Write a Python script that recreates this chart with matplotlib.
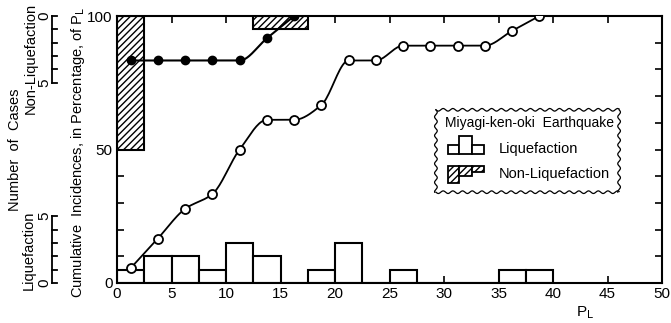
import numpy as np
import matplotlib
matplotlib.use("Agg")
import matplotlib.pyplot as plt
from matplotlib import transforms
from matplotlib.patches import Rectangle

plt.rcParams["font.family"] = ["Liberation Sans", "DejaVu Sans"]
plt.rcParams["hatch.linewidth"] = 1.0

# histogram bins of P_L (width 2.5)
bin_left = [0, 2.5, 5, 7.5, 10, 12.5, 15, 17.5, 20, 22.5, 25, 27.5, 30, 32.5, 35, 37.5]
liq_counts = [1, 2, 2, 1, 3, 2, 0, 1, 3, 0, 1, 0, 0, 0, 1, 1]
nonliq_counts = [10, 0, 0, 0, 0, 1, 1, 0, 0, 0, 0, 0, 0, 0, 0, 0]
bin_width = 2.5
pct_per_case = 5  # one case = 5 % on the cumulative axis

x_ticks = [0, 5, 10, 15, 20, 25, 30, 35, 40, 45, 50]
y_labels = [0, 50, 100]


def pchip(x, y, xn):
    x = np.asarray(x, float)
    y = np.asarray(y, float)
    h = np.diff(x)
    d = np.diff(y) / h
    m = np.zeros_like(y)
    for k in range(1, len(x) - 1):
        if d[k - 1] * d[k] > 0:
            w1 = 2 * h[k] + h[k - 1]
            w2 = h[k] + 2 * h[k - 1]
            m[k] = (w1 + w2) / (w1 / d[k - 1] + w2 / d[k])
    m[0] = d[0]
    m[-1] = d[-1]
    out = np.empty_like(xn)
    for i, xv in enumerate(xn):
        k = min(max(np.searchsorted(x, xv) - 1, 0), len(x) - 2)
        t = (xv - x[k]) / h[k]
        h00 = 2 * t**3 - 3 * t**2 + 1
        h10 = t**3 - 2 * t**2 + t
        h01 = -2 * t**3 + 3 * t**2
        h11 = t**3 - t**2
        out[i] = h00 * y[k] + h10 * h[k] * m[k] + h01 * y[k + 1] + h11 * h[k] * m[k + 1]
    return out


mid = np.array(bin_left) + bin_width / 2
liq = np.array(liq_counts)
non = np.array(nonliq_counts)
cum_liq = np.cumsum(liq) / liq.sum() * 100
cum_non = np.cumsum(non) / non.sum() * 100
last_liq = np.argmax(cum_liq >= 100) + 1
last_non = np.argmax(cum_non >= 100) + 1

W, H = 671, 323
fig = plt.figure(figsize=(W / 100, H / 100), dpi=100)
ax = fig.add_axes([117 / W, 1 - 283 / H, (662 - 117) / W, (283 - 16) / H])
ax.set_xlim(0, 50)
ax.set_ylim(0, 100)

# liquefaction histogram from bottom
ax.bar(bin_left, liq * pct_per_case, width=bin_width, align="edge",
       facecolor="white", edgecolor="black", linewidth=1.5, zorder=2)
# non-liquefaction histogram hanging from top
for xl, c in zip(bin_left, nonliq_counts):
    if c > 0:
        ax.bar(xl, -c * pct_per_case, bottom=100, width=bin_width, align="edge",
               facecolor="white", edgecolor="black", hatch="/////", linewidth=0,
               zorder=2)
# outline of hatched groups
ax.bar(0, -non[0] * pct_per_case, bottom=100, width=bin_width, align="edge",
       fill=False, edgecolor="black", linewidth=1.5, zorder=3)
ax.bar(12.5, -pct_per_case, bottom=100, width=2 * bin_width, align="edge",
       fill=False, edgecolor="black", linewidth=1.5, zorder=3)

# cumulative curves
xs = mid[:last_liq]
xx = np.linspace(xs[0], xs[-1], 300)
ax.plot(xx, pchip(xs, cum_liq[:last_liq], xx), color="black", lw=1.3, zorder=4)
ax.plot(xs, cum_liq[:last_liq], "o", ms=6.5, mfc="white", mec="black", mew=1.3,
        zorder=5)

xs = mid[:last_non]
xx = np.linspace(xs[0], xs[-1], 300)
ax.plot(xx, pchip(xs, cum_non[:last_non], xx), color="black", lw=1.5, zorder=4)
ax.plot(xs, cum_non[:last_non], "o", ms=6, mfc="black", mec="black", zorder=5)

for s in ax.spines.values():
    s.set_linewidth(1.5)
ax.set_xticks(x_ticks)
ax.set_yticks(np.arange(0, 101, 10))
ax.set_yticklabels([str(v) if v in y_labels else "" for v in range(0, 101, 10)])
ax.tick_params(direction="in", length=5, width=1.2, top=True, right=True,
               labelsize=11, pad=3)
ax.set_xlabel("P$_{\\mathrm{L}}$", fontsize=11, labelpad=2)
ax.xaxis.set_label_coords((585 - 117) / (662 - 117), -0.08)

# left-side labels and small case scales
trans = transforms.blended_transform_factory(fig.transFigure, ax.transData)
for base, sign in [(100, -1), (0, 1)]:
    ys = [base + sign * k * pct_per_case for k in range(6)]
    ax.plot([52 / W, 52 / W], [ys[0], ys[-1]], color="black", lw=1.3,
            transform=trans, clip_on=False)
    for yv in ys:
        ax.plot([52 / W, 57 / W], [yv, yv], color="black", lw=1.3,
                transform=trans, clip_on=False)
    ax.text(44 / W, ys[0], "0", transform=trans, ha="center", va="center",
            fontsize=11, rotation=90)
    ax.text(44 / W, ys[-1], "5", transform=trans, ha="center", va="center",
            fontsize=11, rotation=90)

fig.text(15 / W, 1 - 150 / H, "Number  of  Cases", rotation=90, ha="center",
         va="center", fontsize=10.5)
fig.text(31 / W, 1 - 58 / H, "Non-Liquefaction", rotation=90, ha="center",
         va="center", fontsize=10.5)
fig.text(29 / W, 1 - 250 / H, "Liquefaction", rotation=90, ha="center",
         va="center", fontsize=10.5)
fig.text(78 / W, 1 - 152 / H, "Cumulative  Incidences, in Percentage, of P$_{\\mathrm{L}}$",
         rotation=90, ha="center", va="center", fontsize=10.5)

# legend box with wavy border
bx0, by0, bw, bh = 433, 107, 189, 88
lax = fig.add_axes([bx0 / W, 1 - (by0 + bh) / H, bw / W, bh / H])
lax.set_xlim(-3, bw + 3)
lax.set_ylim(bh + 3, -3)
lax.axis("off")
amp, per = 1.4, 10.0
t = np.linspace(0, bw, 400)
lax.plot(t, amp * np.sin(2 * np.pi * t / per), color="black", lw=0.9)
lax.plot(t, bh + amp * np.sin(2 * np.pi * t / per), color="black", lw=0.9)
t = np.linspace(0, bh, 200)
lax.plot(amp * np.sin(2 * np.pi * t / per), t, color="black", lw=0.9)
lax.plot(bw + amp * np.sin(2 * np.pi * t / per), t, color="black", lw=0.9)

lax.text(bw / 2 + 2, 14, "Miyagi-ken-oki  Earthquake", ha="center", va="center",
         fontsize=10)
for x0, x1, top in [(12, 24, 38), (24, 37, 28), (37, 50, 38)]:
    lax.add_patch(Rectangle((x0, top), x1 - x0, 47 - top, facecolor="white",
                            edgecolor="black", lw=1.3))
for x0, x1, bot in [(12, 24, 78), (24, 37, 71), (37, 50, 66)]:
    lax.add_patch(Rectangle((x0, 60), x1 - x0, bot - 60, facecolor="white",
                            edgecolor="black", lw=1.3, hatch="/////"))
lax.text(65, 42, "Liquefaction", ha="left", va="center", fontsize=10.5)
lax.text(65, 69, "Non-Liquefaction", ha="left", va="center", fontsize=10.5)

fig.savefig("out.png", dpi=100)
